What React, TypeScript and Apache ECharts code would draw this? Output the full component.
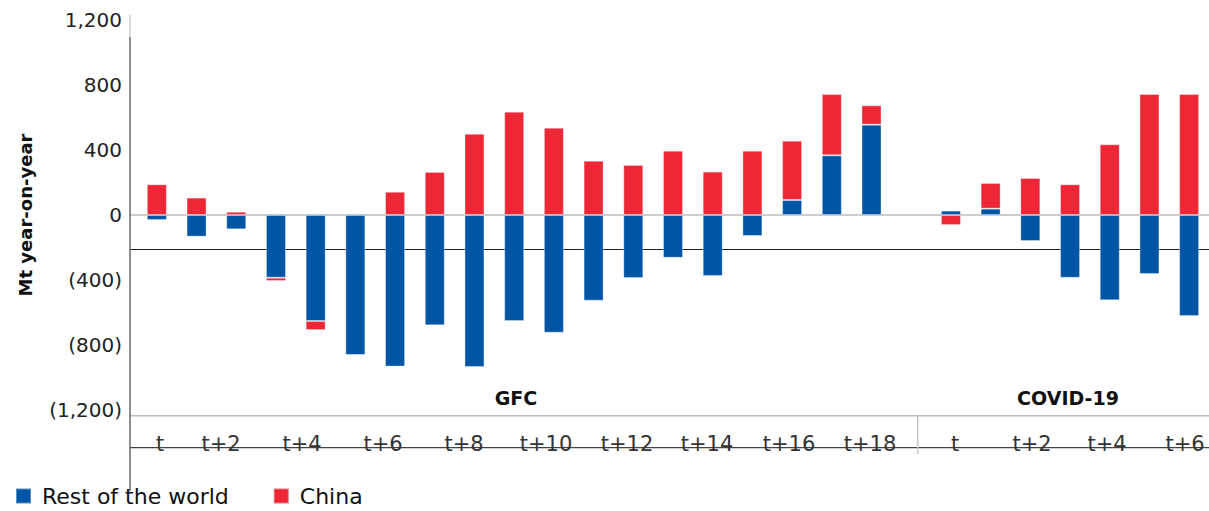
import React, { useEffect, useRef } from "react";
import * as echarts from "echarts";

// ---- Data ----
const gfcPeriods = ["t", "t+1", "t+2", "t+3", "t+4", "t+5", "t+6", "t+7", "t+8", "t+9", "t+10", "t+11", "t+12", "t+13", "t+14", "t+15", "t+16", "t+17", "t+18"];
const covidPeriods = ["t", "t+1", "t+2", "t+3", "t+4", "t+5", "t+6"];
const categories = [
  ...gfcPeriods.map((p) => "GFC " + p),
  "",
  ...covidPeriods.map((p) => "COVID-19 " + p),
];

// Mt year-on-year
const restOfWorld = [-31, -133, -88, -386, -652, -862, -933, -679, -935, -652, -724, -527, -388, -263, -375, -129, 92, 367, 556, null, 27, 39, -160, -386, -525, -363, -622];
const china = [189, 107, 20, -20, -56, 0, 143, 265, 500, 636, 537, 334, 308, 396, 267, 396, 365, 378, 119, null, -62, 158, 228, 189, 435, 745, 745];

const gfcTickLabels = ["t", "t+2", "t+4", "t+6", "t+8", "t+10", "t+12", "t+14", "t+16", "t+18"];
const covidTickLabels = ["t", "t+2", "t+4", "t+6"];
const groupLabels = ["GFC", "COVID-19"];
const yTicks = { min: -1200, max: 1200, interval: 400 };

// ---- Layout (pixels) ----
const W = 1209;
const H = 511;
const gfcTickX = [160, 221, 302, 383, 464, 546, 627, 707, 789, 870];
const covidTickX = [955, 1032, 1107, 1185];
const groupX = [516, 1068];
const FONT = "DejaVu Sans";
const BLUE = "#0055a5";
const RED = "#ed2736";

function fmt(v: number): string {
  const a = Math.abs(v).toLocaleString("en-US");
  return v < 0 ? `(${a})` : a;
}

export default function App() {
  const ref = useRef<HTMLDivElement>(null);
  useEffect(() => {
    if (!ref.current) return;
    const chart = echarts.init(ref.current, undefined, { renderer: "svg" });
    const textEls: any[] = [];
    gfcTickLabels.forEach((t, i) =>
      textEls.push({
        type: "text",
        x: gfcTickX[i],
        y: 444,
        silent: true,
        style: { text: t, fill: "#333", font: `21px "${FONT}"`, align: "center", verticalAlign: "middle" },
      })
    );
    covidTickLabels.forEach((t, i) =>
      textEls.push({
        type: "text",
        x: covidTickX[i],
        y: 444,
        silent: true,
        style: { text: t, fill: "#333", font: `21px "${FONT}"`, align: "center", verticalAlign: "middle" },
      })
    );
    groupLabels.forEach((t, i) =>
      textEls.push({
        type: "text",
        x: groupX[i],
        y: 397.5,
        silent: true,
        style: { text: t, fill: "#111", font: `bold 19px "${FONT}"`, align: "center", verticalAlign: "middle" },
      })
    );
    const lineEls: any[] = [
      { type: "line", silent: true, z: 0, shape: { x1: 130, y1: 215, x2: W, y2: 215 }, style: { stroke: "#bdbdbd", lineWidth: 1.5 } },
      { type: "line", silent: true, z: 0, shape: { x1: 130, y1: 249.5, x2: W, y2: 249.5 }, style: { stroke: "#222", lineWidth: 1.2 } },
      { type: "line", silent: true, z: 0, shape: { x1: 130, y1: 415.7, x2: W, y2: 415.7 }, style: { stroke: "#bdbdbd", lineWidth: 1.5 } },
      { type: "line", silent: true, z: 0, shape: { x1: 130, y1: 447.7, x2: W, y2: 447.7 }, style: { stroke: "#444", lineWidth: 1.3 } },
      { type: "line", silent: true, z: 0, shape: { x1: 917.7, y1: 416, x2: 917.7, y2: 454 }, style: { stroke: "#c8c8c8", lineWidth: 1.5 } },
      { type: "line", silent: true, z: 0, shape: { x1: 130, y1: 15, x2: 130, y2: 37 }, style: { stroke: "#c8c8c8", lineWidth: 1.3 } },
      { type: "line", silent: true, z: 0, shape: { x1: 130, y1: 37, x2: 130, y2: 491 }, style: { stroke: "#555", lineWidth: 1.3 } },
    ];
    chart.setOption({
      animation: false,
      grid: { left: 137, top: 20, width: 1079, height: 390, containLabel: false },
      legend: {
        left: 15,
        top: 485,
        padding: 0,
        itemWidth: 15,
        itemHeight: 15,
        itemGap: 44,
        icon: "rect",
        textStyle: { fontFamily: FONT, fontSize: 22, color: "#111", lineHeight: 21, padding: [0, 0, 0, 6] },
        data: ["Rest of the world", "China"],
      },
      xAxis: {
        type: "category",
        data: categories,
        axisLine: { show: false },
        axisTick: { show: false },
        axisLabel: { show: false },
        splitLine: { show: false },
      },
      yAxis: {
        type: "value",
        min: yTicks.min,
        max: yTicks.max,
        interval: yTicks.interval,
        axisLine: { show: false },
        axisTick: { show: false },
        splitLine: { show: false },
        axisLabel: {
          margin: 15,
          fontFamily: FONT,
          fontSize: 20,
          color: "#222",
          formatter: (v: number) => fmt(v),
        },
        name: "Mt year-on-year",
        nameLocation: "middle",
        nameGap: 103,
        nameRotate: 90,
        nameTextStyle: { fontFamily: FONT, fontSize: 18, fontWeight: "bold", color: "#111" },
      },
      graphic: [...lineEls, ...textEls],
      series: [
        {
          name: "Rest of the world",
          type: "bar",
          stack: "total",
          barWidth: 20,
          data: restOfWorld,
          itemStyle: { color: BLUE, borderColor: "rgba(255,255,255,0.35)", borderWidth: 1 },
        },
        {
          name: "China",
          type: "bar",
          stack: "total",
          barWidth: 20,
          data: china,
          itemStyle: { color: RED, borderColor: "rgba(255,255,255,0.35)", borderWidth: 1 },
        },
      ],
    });
    return () => chart.dispose();
  }, []);
  return (
    <div
      ref={ref}
      style={{ position: "fixed", left: 0, top: 0, width: W, height: H, background: "#fff" }}
    />
  );
}
